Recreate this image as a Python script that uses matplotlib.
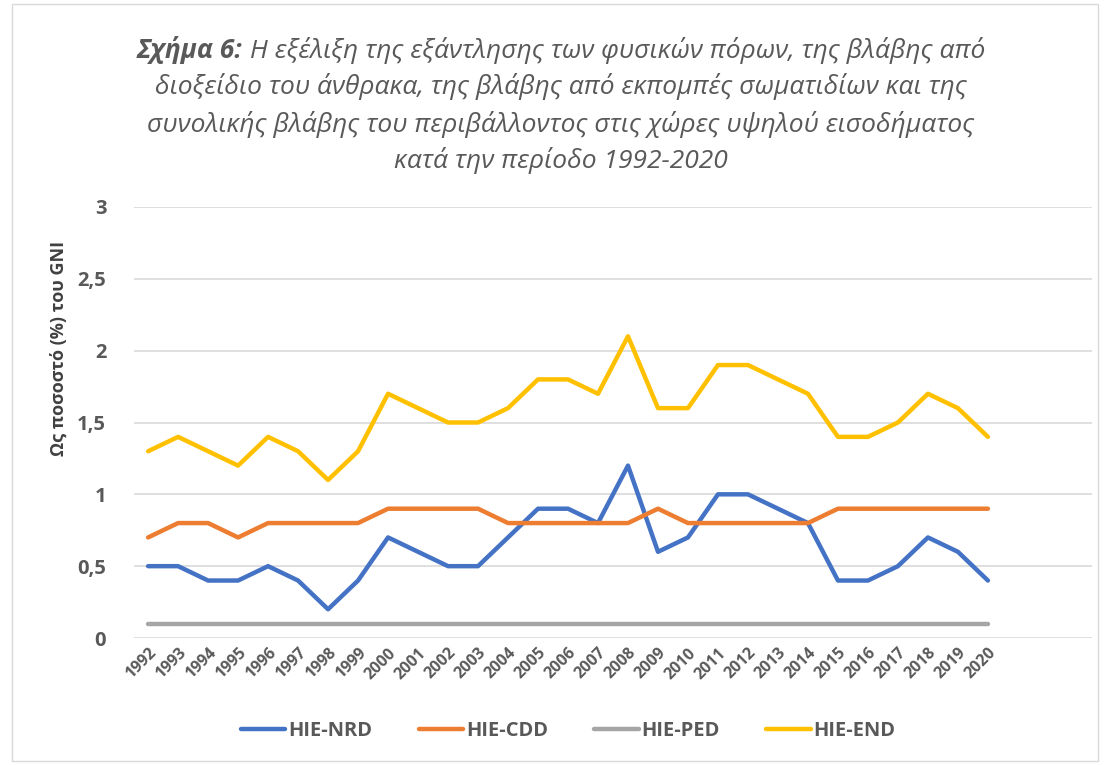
import matplotlib
matplotlib.use("Agg")
import matplotlib.pyplot as plt
from matplotlib.patches import Rectangle

plt.rcParams['font.family'] = ['Open Sans', 'DejaVu Sans']

years = list(range(1992, 2021))
hie_nrd = [0.5, 0.5, 0.4, 0.4, 0.5, 0.4, 0.2, 0.4, 0.7, 0.6, 0.5, 0.5, 0.7, 0.9, 0.9, 0.8,
           1.2, 0.6, 0.7, 1.0, 1.0, 0.9, 0.8, 0.4, 0.4, 0.5, 0.7, 0.6, 0.4]
hie_cdd = [0.7, 0.8, 0.8, 0.7, 0.8, 0.8, 0.8, 0.8, 0.9, 0.9, 0.9, 0.9, 0.8, 0.8, 0.8, 0.8,
           0.8, 0.9, 0.8, 0.8, 0.8, 0.8, 0.8, 0.9, 0.9, 0.9, 0.9, 0.9, 0.9]
hie_ped = [0.1] * 29
hie_end = [1.3, 1.4, 1.3, 1.2, 1.4, 1.3, 1.1, 1.3, 1.7, 1.6, 1.5, 1.5, 1.6, 1.8, 1.8, 1.7,
           2.1, 1.6, 1.6, 1.9, 1.9, 1.8, 1.7, 1.4, 1.4, 1.5, 1.7, 1.6, 1.4]
series_names = ['HIE-NRD', 'HIE-CDD', 'HIE-PED', 'HIE-END']
colors = ['#4472C4', '#ED7D31', '#A5A5A5', '#FFC000']
yticks = [0, 0.5, 1, 1.5, 2, 2.5, 3]
ytick_labels = ['0', '0,5', '1', '1,5', '2', '2,5', '3']

title_bold = 'Σχήμα 6:'
title_lines = [' Η εξέλιξη της εξάντλησης των φυσικών πόρων, της βλάβης από',
               'διοξείδιο του άνθρακα, της βλάβης από εκπομπές σωματιδίων και της',
               'συνολικής βλάβης του περιβάλλοντος στις χώρες υψηλού εισοδήματος',
               'κατά την περίοδο 1992-2020']
ylabel = 'Ως ποσοστό (%) του GNI'

W, H = 1108, 765
fig = plt.figure(figsize=(W / 100, H / 100), dpi=100)
fig.patches.append(Rectangle((12 / W, 4 / H), (1098 - 12) / W, (H - 8) / H,
                             transform=fig.transFigure, fill=False,
                             edgecolor='#d9d9d9', linewidth=1))

ax = fig.add_axes([134 / W, 1 - 638 / H, (1092 - 134) / W, (638 - 207) / H])
x = list(range(len(years)))
for vals, name, c in zip([hie_nrd, hie_cdd, hie_ped, hie_end], series_names, colors):
    ax.plot(x, vals, color=c, linewidth=3.2, label=name,
            solid_capstyle='round', solid_joinstyle='round')

ax.set_xlim(-0.47, 31.47)
ax.set_ylim(0, 3)
ax.set_yticks(yticks)
ax.set_yticklabels(ytick_labels)
ax.set_xticks(x)
ax.set_xticklabels([str(y) for y in years], rotation=45, ha='right',
                   rotation_mode='anchor')
for lab in ax.get_xticklabels():
    lab.set_fontsize(11.5)
    lab.set_fontweight('bold')
    lab.set_color('#595959')
for lab in ax.get_yticklabels():
    lab.set_fontsize(14.5)
    lab.set_fontweight('bold')
    lab.set_color('#595959')
ax.tick_params(axis='both', length=0)
ax.tick_params(axis='y', pad=20)
ax.tick_params(axis='x', pad=5)
for s in ax.spines.values():
    s.set_visible(False)
ax.grid(axis='y', color='#d9d9d9', linewidth=1.2)
ax.set_axisbelow(True)
ax.set_ylabel(ylabel, fontsize=13, fontweight='bold', color='#404040')
ax.yaxis.set_label_coords((68 - 134) / (1092 - 134), (638 - 348) / (638 - 207))

leg = fig.legend(loc='center', bbox_to_anchor=(0.513, 1 - 731 / H), ncol=4,
                 frameon=False, fontsize=14.5, handlelength=2.2, columnspacing=2.3,
                 handletextpad=0.15)
for t in leg.get_texts():
    t.set_fontweight('bold')
    t.set_color('#595959')

# title
fs = 19
cx = 561 / W
ys = [50, 87, 124, 160]
fig.canvas.draw()
r = fig.canvas.get_renderer()
tb = fig.text(0, 0, title_bold, fontsize=fs, fontstyle='italic', fontweight='bold',
              color='#595959', va='center', ha='left')
tr = fig.text(0, 0, title_lines[0], fontsize=fs, fontstyle='italic',
              color='#595959', va='center', ha='left')
wb = tb.get_window_extent(r).width
wr = tr.get_window_extent(r).width
x0 = cx * W - (wb + wr) / 2
tb.set_position((x0 / W, 1 - ys[0] / H))
tr.set_position(((x0 + wb) / W, 1 - ys[0] / H))
for line, yy in zip(title_lines[1:], ys[1:]):
    fig.text(cx, 1 - yy / H, line, fontsize=fs, fontstyle='italic',
             color='#595959', va='center', ha='center')

fig.savefig('out.png', dpi=100)
